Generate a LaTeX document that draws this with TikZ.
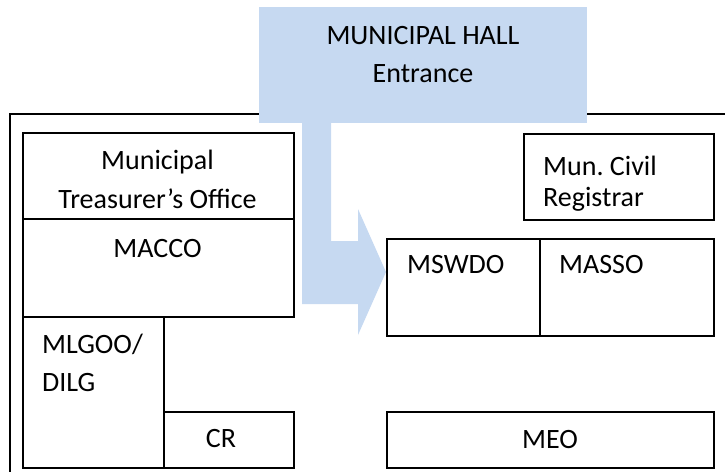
\documentclass[tikz,border=0pt]{standalone}
\usepackage{fontspec}
\setmainfont{Carlito}
\definecolor{hallblue}{RGB}{198,217,241}
\begin{document}
\frenchspacing
\begin{tikzpicture}[x=1pt,y=-1pt,
  room/.style={draw=black,line width=1.5pt,rectangle,inner sep=0pt,anchor=north west},
  lbl/.style={inner sep=0pt,anchor=base,font=\fontsize{28}{38}\selectfont},
  lbll/.style={inner sep=0pt,anchor=base west,font=\fontsize{28}{38}\selectfont}]
\useasboundingbox (0,0) rectangle (725,471);
% outer frame
\coordinate (fbl) at (10,473);
\coordinate (ftl) at (10,114);
\coordinate (ftr) at (727,114);
\draw[line width=1.5pt] (fbl) -- (ftl) -- (ftr);
% entrance callout
\node[rectangle,fill=hallblue,inner sep=0pt,anchor=north west,minimum width=328pt,minimum height=116pt] (hall) at (259,7) {};
\fill[hallblue] (302,122) -- (331,122) -- (331,241) -- (358,241) -- (358,209) -- (386,272) -- (358,335) -- (358,304) -- (302,304) -- cycle;
\node[lbl] (hallA) at (423,44) {MUNICIPAL HALL};
\node[lbl] (hallB) at (423,82) {Entrance};
% left block
\node[room,minimum width=271pt,minimum height=86pt] (mto) at (22,132) {};
\node[lbl] (mtoA) at (157.5,169) {Municipal};
\node[lbl] (mtoB) at (157.5,208) {Treasurer’s Office};
\node[room,minimum width=271pt,minimum height=98pt] (macco) at (22,218) {};
\node[lbl] (maccoT) at (157.5,257) {MACCO};
\node[room,minimum width=141pt,minimum height=151pt] (mlgoo) at (22,316) {};
\node[lbll] (mlgooA) at (42,353) {MLGOO/};
\node[lbll] (mlgooB) at (42,391) {DILG};
\node[room,minimum width=130pt,minimum height=56pt] (cr) at (163,411) {};
\node[lbl] (crT) at (221,447) {CR};
% right block
\node[room,minimum width=190pt,minimum height=86pt] (mcr) at (523,133) {};
\node[lbll] (mcrA) at (543,175) {Mun. Civil};
\node[lbll] (mcrB) at (543,206) {Registrar};
\node[room,minimum width=153pt,minimum height=97pt] (mswdo) at (386,238) {};
\node[lbll] (mswdoT) at (407,273) {MSWDO};
\node[room,minimum width=174pt,minimum height=97pt] (masso) at (539,238) {};
\node[lbll] (massoT) at (559,273) {MASSO};
\node[room,minimum width=327pt,minimum height=56pt] (meo) at (386,411) {};
\node[lbl] (meoT) at (550,448) {MEO};
\end{tikzpicture}
\end{document}
